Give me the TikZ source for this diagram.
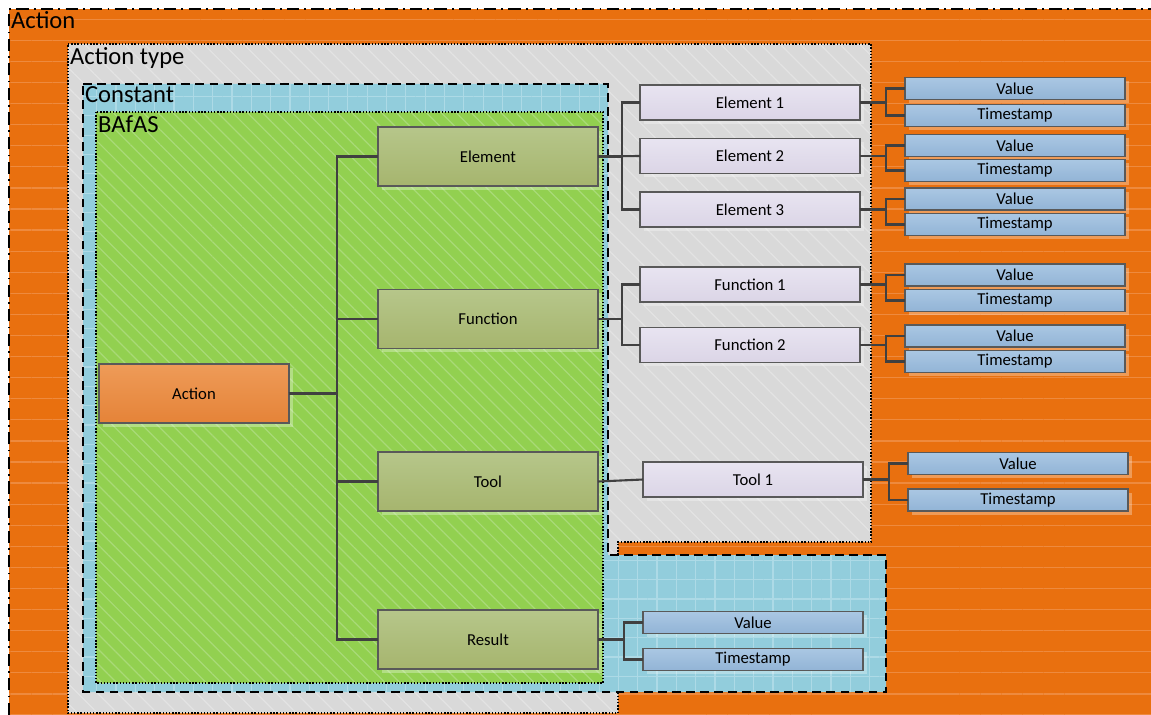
\documentclass[tikz,border=0pt]{standalone}
\usepackage{fontspec}
\setmainfont{Carlito}
\usetikzlibrary{patterns.meta,shadows}

\definecolor{actorange}{HTML}{E9700F}
\definecolor{actstripe}{HTML}{EE8A3E}
\definecolor{typegray}{HTML}{D9D9D9}
\definecolor{typestripe}{HTML}{E3E3E3}
\definecolor{constblue}{HTML}{92CDDC}
\definecolor{constgrid}{HTML}{ADDAE6}
\definecolor{bafgreen}{HTML}{92D050}
\definecolor{bafstripe}{HTML}{A9DA78}
\definecolor{boxline}{HTML}{595959}
\definecolor{connline}{HTML}{404040}

\tikzset{
  box/.style={draw=boxline, line width=0.7pt, inner sep=0pt, outer sep=0pt,
    font=\fontsize{9.5}{11}\selectfont,
    drop shadow={shadow xshift=2pt, shadow yshift=-2pt, fill=white, opacity=0.3}},
  actbox/.style={box, minimum width=3.8cm, minimum height=1.18cm,
    top color={rgb,255:red,238;green,155;blue,88}, bottom color={rgb,255:red,229;green,131;blue,56}},
  catbox/.style={box, minimum width=4.4cm, minimum height=1.18cm,
    top color={rgb,255:red,182;green,198;blue,138}, bottom color={rgb,255:red,166;green,181;blue,110}},
  itembox/.style={box, minimum width=4.4cm, minimum height=0.7cm,
    top color={rgb,255:red,232;green,228;blue,241}, bottom color={rgb,255:red,219;green,213;blue,230}},
  valbox/.style={box, minimum width=4.4cm, minimum height=0.44cm,
    top color={rgb,255:red,170;green,199;blue,227}, bottom color={rgb,255:red,146;green,180;blue,214}},
  conn/.style={draw=connline, line width=1.2pt},
  regionlabel/.style={anchor=north west, inner sep=1pt, font=\fontsize{14}{16}\selectfont}
}

\begin{document}
\begin{tikzpicture}[x=0.02cm, y=-0.02cm]
  \useasboundingbox (0,0) rectangle (1151,715);

  % Action
  \fill[actorange] (9,9) rectangle (1151,715);
  \fill[pattern={Lines[angle=0, distance=12pt, line width=0.7pt]}, pattern color=actstripe]
    (9,9) rectangle (1151,715);
  \draw[dash pattern=on 7pt off 3pt on 1pt off 3pt, line width=0.6pt] (9,715) -- (9,9) -- (1151,9);
  \node[regionlabel] (lblaction) at (9,9) {Action};

  % Action type
  \fill[typegray] (68,44) -- (871,44) -- (871,542) -- (618,542) -- (618,713) -- (68,713) -- cycle;
  \fill[pattern={Lines[angle=-45, distance=8pt, line width=0.7pt]}, pattern color=typestripe]
    (68,44) -- (871,44) -- (871,542) -- (618,542) -- (618,713) -- (68,713) -- cycle;
  \draw[densely dotted, line width=0.8pt] (68,44) -- (871,44) -- (871,542) -- (618,542) -- (618,713) -- (68,713) -- cycle;
  \node[regionlabel] (lbltype) at (68,45) {Action type};

  % Constant
  \fill[constblue] (83,84) -- (608,84) -- (608,555) -- (886,555) -- (886,692) -- (83,692) -- cycle;
  \fill[pattern={Hatch[angle=0, distance=11pt, line width=0.7pt]}, pattern color=constgrid]
    (83,84) -- (608,84) -- (608,555) -- (886,555) -- (886,692) -- (83,692) -- cycle;
  \draw[dash pattern=on 5pt off 3pt, line width=0.8pt] (83,84) -- (608,84) -- (608,555) -- (886,555) -- (886,692) -- (83,692) -- cycle;
  \node[regionlabel] (lblconst) at (83,84) {Constant};

  % BAfAS
  \fill[bafgreen] (96,112) rectangle (603,683);
  \fill[pattern={Lines[angle=-45, distance=6pt, line width=0.7pt]}, pattern color=bafstripe]
    (96,112) rectangle (603,683);
  \draw[densely dotted, line width=0.8pt] (96,112) rectangle (603,683);
  \node[regionlabel] (lblbafas) at (96,114) {BAfAS};

  % uzly
  \node[actbox] (act) at (194,393.5) {Action};
  \node[catbox] (elem) at (488,156.5) {Element};
  \node[catbox] (func) at (488,319) {Function};
  \node[catbox] (tool) at (488,481.5) {Tool};
  \node[catbox] (res) at (488,639.5) {Result};

  \node[itembox] (e1) at (750,102.5) {Element 1};
  \node[itembox] (e2) at (750,156) {Element 2};
  \node[itembox] (e3) at (750,209.5) {Element 3};
  \node[itembox] (f1) at (750,284.5) {Function 1};
  \node[itembox] (f2) at (750,345) {Function 2};
  \node[itembox] (t1) at (753,479.5) {Tool 1};

  % spojnice
  \draw[conn] (act.east) -- ++(48,0) |- (elem.west);
  \draw[conn] (act.east) -- ++(48,0) |- (func.west);
  \draw[conn] (act.east) -- ++(48,0) |- (tool.west);
  \draw[conn] (act.east) -- ++(48,0) |- (res.west);

  \draw[conn] (elem.east) -- ++(24,0) |- (e1.west);
  \draw[conn] (elem.east) -- (e2.west);
  \draw[conn] (elem.east) -- ++(24,0) |- (e3.west);
  \draw[conn] (func.east) -- ++(24,0) |- (f1.west);
  \draw[conn] (func.east) -- ++(24,0) |- (f2.west);
  \draw[conn] (tool.east) -- (t1.west);

  % hodnoty
  \foreach \n/\x/\yv/\yt in {e1/1015/88.5/115.5, e2/1015/145.5/170.5, e3/1015/199/224.5,
      f1/1015/275/300.5, f2/1015/336/361.5, t1/1018/463.5/500, res/753/622.5/659.5} {
    \node[valbox] (v\n) at (\x,\yv) {Value};
    \node[valbox] (ts\n) at (\x,\yt) {Timestamp};
    \draw[conn] (\n.east) -- ++(26,0) |- (v\n.west);
    \draw[conn] (\n.east) -- ++(26,0) |- (ts\n.west);
  }
\end{tikzpicture}
\end{document}
